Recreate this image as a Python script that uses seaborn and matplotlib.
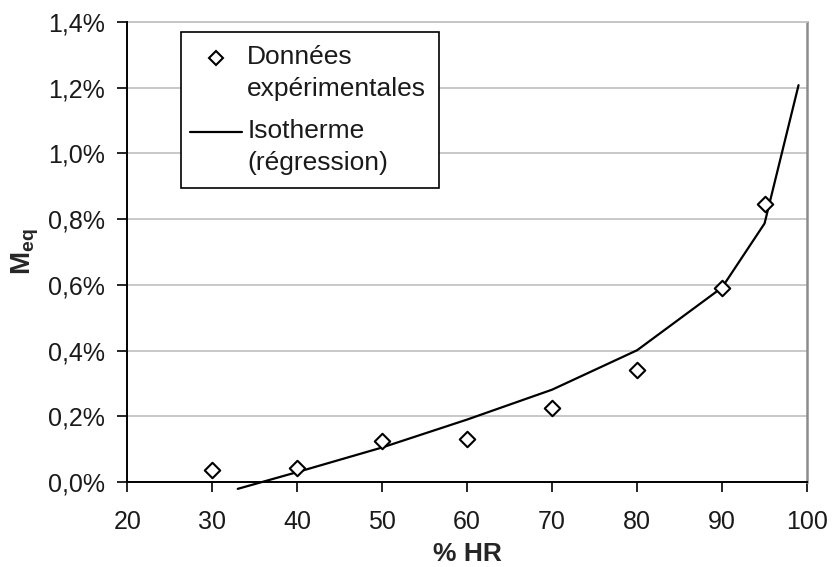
import matplotlib
matplotlib.use("Agg")
import matplotlib.pyplot as plt
import matplotlib.ticker as mticker
from matplotlib.lines import Line2D
from matplotlib.legend_handler import HandlerLine2D
import seaborn as sns
import pandas as pd

# Experimental equilibrium moisture content vs relative humidity
hr_exp = [30, 40, 50, 60, 70, 80, 90, 95]
meq_exp = [0.036, 0.043, 0.124, 0.131, 0.224, 0.340, 0.591, 0.847]

# Regression isotherm
hr_fit = [33, 40, 50, 60, 70, 80, 90, 95, 99]
meq_fit = [-0.021, 0.030, 0.105, 0.190, 0.281, 0.401, 0.592, 0.787, 1.208]

x_ticks = [20, 30, 40, 50, 60, 70, 80, 90, 100]
y_ticks = [0.0, 0.2, 0.4, 0.6, 0.8, 1.0, 1.2, 1.4]

sns.set_style("white")
plt.rcParams["font.family"] = ["Liberation Sans", "DejaVu Sans"]
plt.rcParams["mathtext.fontset"] = "custom"
plt.rcParams["mathtext.rm"] = "Liberation Sans"
plt.rcParams["mathtext.bf"] = "Liberation Sans:bold"


class TopLineHandler(HandlerLine2D):
    """Place the legend key level with the first line of a two-line label."""

    def create_artists(self, legend, orig_handle, xdescent, ydescent,
                       width, height, fontsize, trans):
        return super().create_artists(legend, orig_handle, xdescent + 2.9,
                                      ydescent - 23, width, height,
                                      fontsize, trans)


df_exp = pd.DataFrame({"HR": hr_exp, "Meq": meq_exp})
df_fit = pd.DataFrame({"HR": hr_fit, "Meq": meq_fit})

fig = plt.figure(figsize=(8.32, 5.67), dpi=100)
ax = fig.add_axes([0.153, 0.150, 0.817, 0.811])

sns.lineplot(data=df_fit, x="HR", y="Meq", ax=ax, color="black", lw=1.6,
             clip_on=False, zorder=3)
sns.scatterplot(data=df_exp, x="HR", y="Meq", ax=ax, marker="D", s=62,
                facecolor="white", edgecolor="black", linewidth=1.5, zorder=4)

ax.set_xlim(20, 100)
ax.set_ylim(0, 1.4)
ax.set_xticks(x_ticks)
ax.set_yticks(y_ticks)
ax.yaxis.set_major_formatter(mticker.FuncFormatter(lambda v, p: f"{v:.1f}%".replace(".", ",")))
ax.tick_params(axis="both", direction="out", length=7, width=1.2, color="black",
               labelsize=18, labelcolor="#1a1a1a", left=True, bottom=True)
ax.tick_params(axis="x", pad=13)
ax.tick_params(axis="y", pad=9)

ax.grid(axis="y", color="#c4c4c4", lw=1.3)
ax.set_axisbelow(True)
for side in ["left", "bottom"]:
    ax.spines[side].set_color("black")
    ax.spines[side].set_linewidth(1.4)
    ax.spines[side].set_zorder(5)
ax.spines["right"].set_color("#8c8c8c")
ax.spines["right"].set_linewidth(1.8)
ax.spines["top"].set_color("#c4c4c4")
ax.spines["top"].set_linewidth(1.3)

ax.set_xlabel("% HR", fontsize=19, fontweight="bold", labelpad=6)
ax.set_ylabel(r"$\mathbf{M}_{\mathbf{eq}}$", fontsize=20, labelpad=5)

handles = [
    Line2D([], [], marker="D", ls="none", markersize=7.5, markerfacecolor="white",
           markeredgecolor="black", markeredgewidth=1.5),
    Line2D([], [], color="black", lw=1.6),
]
leg = ax.legend(handles, ["Données\nexpérimentales", "Isotherme\n(régression)"],
                loc="upper left", bbox_to_anchor=(0.0794, 0.978), fontsize=19,
                frameon=True, fancybox=False, edgecolor="black", framealpha=1,
                handlelength=1.95, handletextpad=0.05, labelspacing=0.7,
                borderpad=0.5, borderaxespad=0,
                handler_map={Line2D: TopLineHandler()})
leg.get_frame().set_linewidth(1.2)
for t in leg.get_texts():
    t.set_linespacing(1.4)
    t.set_color("#1a1a1a")

fig.savefig("out.png", dpi=100)
